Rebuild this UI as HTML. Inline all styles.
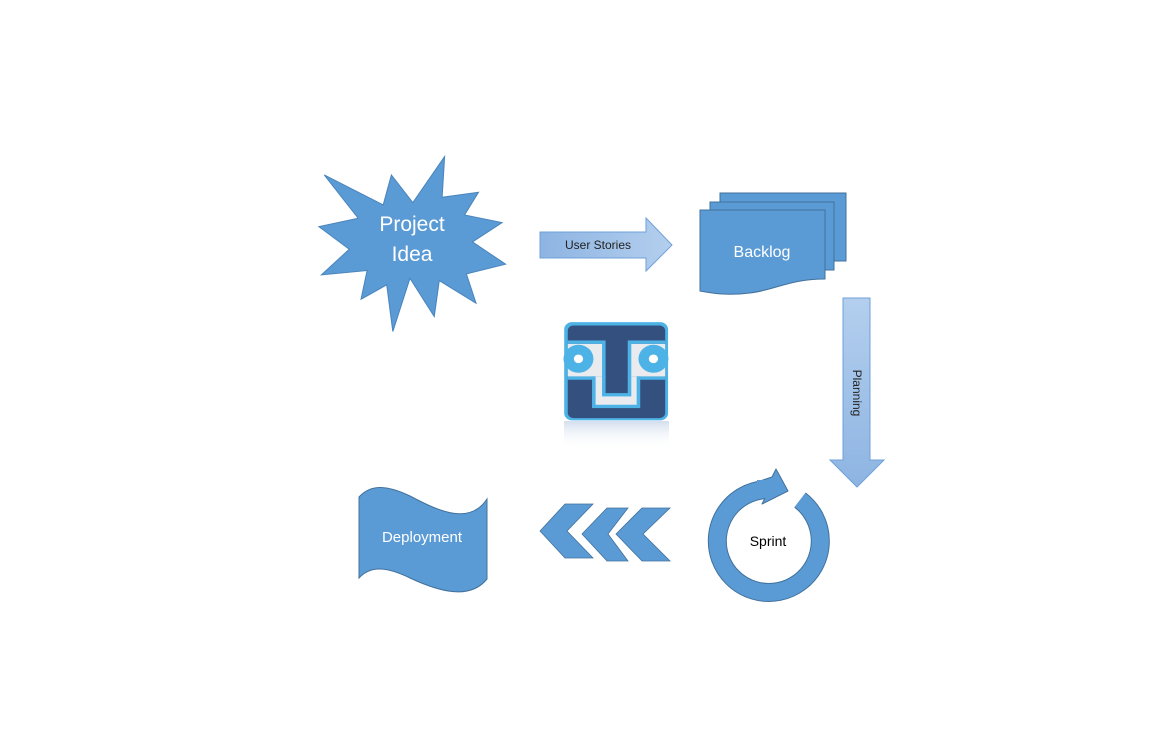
<!DOCTYPE html>
<html><head><meta charset="utf-8"><style>html,body{margin:0;padding:0;background:#fff}svg{display:block}</style></head>
<body>
<svg width="1169" height="735" viewBox="0 0 1169 735" xmlns="http://www.w3.org/2000/svg" font-family="'Liberation Sans', sans-serif">
<defs>
<linearGradient id="ga" x1="0" y1="0" x2="1" y2="0"><stop offset="0" stop-color="#8db4e2"/><stop offset="1" stop-color="#b4cfee"/></linearGradient>
<linearGradient id="gb" x1="0" y1="0" x2="0" y2="1"><stop offset="0" stop-color="#b4cfee"/><stop offset="1" stop-color="#8db4e2"/></linearGradient>
<linearGradient id="gr" x1="0" y1="0" x2="0" y2="1"><stop offset="0" stop-color="#c8d6ea" stop-opacity="0.8"/><stop offset="1" stop-color="#fff" stop-opacity="0"/></linearGradient>
</defs>
<!-- Star -->
<g transform="translate(310,150) scale(0.357,0.333)">
<polygon points="40,75 205,165 228,75 288,158 377,20 370,142 472,127 433,195 538,218 455,276 548,343 438,372 465,460 362,392 348,500 280,385 232,545 215,405 143,448 160,362 32,375 110,298 25,230 135,205" fill="#5b9bd5" stroke="#4a85bd" stroke-width="3"/>
</g>
<text x="412" y="231" font-size="21" fill="#fff" text-anchor="middle">Project</text>
<text x="412" y="261" font-size="21" fill="#fff" text-anchor="middle">Idea</text>
<!-- User stories arrow -->
<polygon points="540,232 646,232 646,218 672,245 646,271 646,258 540,258" fill="url(#ga)" stroke="#6fa0d8" stroke-width="1"/>
<text x="598" y="249" font-size="12" fill="#222" text-anchor="middle">User Stories</text>
<!-- Backlog -->
<rect x="720" y="193" width="126" height="68" fill="#5b9bd5" stroke="#41719c"/>
<rect x="710" y="202" width="124" height="68" fill="#5b9bd5" stroke="#41719c"/>
<path d="M700,210 H825 V279 C790,279 775,290 750,293 C725,296 712,293 700,291 Z" fill="#5b9bd5" stroke="#41719c"/>
<text x="762" y="257" font-size="16" fill="#fff" text-anchor="middle">Backlog</text>
<!-- Planning arrow -->
<polygon points="843,298 870,298 870,460 884,460 857,487 830,460 843,460" fill="url(#gb)" stroke="#6fa0d8" stroke-width="1"/>
<text transform="translate(853,393) rotate(90)" font-size="12" fill="#222" text-anchor="middle">Planning</text>
<!-- Logo -->
<g transform="translate(310,150) scale(0.357,0.333)">
<rect x="712" y="517" width="291" height="295" rx="22" fill="#4db3e6"/>
<rect x="722" y="527" width="273" height="278" rx="16" fill="#34507f"/>
<rect x="722" y="582" width="273" height="98" fill="#e9ebee"/>
<rect x="722" y="572" width="273" height="10" fill="#4db3e6"/>
<rect x="722" y="680" width="273" height="10" fill="#4db3e6"/>
<rect x="790" y="680" width="135" height="95" fill="#4db3e6"/>
<rect x="800" y="680" width="115" height="85" fill="#e9ebee"/>
<rect x="818" y="572" width="82" height="168" fill="#4db3e6"/>
<rect x="828" y="560" width="62" height="170" fill="#34507f"/>
<circle cx="752" cy="627" r="42" fill="#4db3e6"/><circle cx="752" cy="627" r="13" fill="#fff"/>
<circle cx="962" cy="627" r="42" fill="#4db3e6"/><circle cx="962" cy="627" r="13" fill="#fff"/>
</g>
<rect x="564" y="421" width="105" height="28" fill="url(#gr)"/>
<!-- Chevrons -->
<g fill="#5b9bd5" stroke="#41719c" stroke-width="0.8">
<polygon points="540,531 565,504 593,504 567,531 593,558 565,558"/>
<polygon points="582,534 607,508 628,508 608,534 628,561 607,561"/>
<polygon points="616,534 642,508 670,508 643,534 670,561 642,561"/>
</g>
<!-- Sprint -->
<path d="M800,500 A51.5,51.5 0 1 1 765.3,489.6" fill="none" stroke="#41719c" stroke-width="19"/>
<path d="M800,500 A51.5,51.5 0 1 1 765.3,489.6" fill="none" stroke="#5b9bd5" stroke-width="17"/>
<polygon points="776,469 788,491 762,504 766,496 760,481 772,477" fill="#5b9bd5" stroke="#41719c" stroke-width="1" stroke-linejoin="round"/>
<rect x="757" y="480" width="12" height="18" fill="#5b9bd5"/>
<text x="768" y="546" font-size="14" fill="#000" text-anchor="middle">Sprint</text>
<!-- Deployment -->
<path d="M359,497 C370,485 385,484 410,496 C440,512 470,525 487,499 V579 C470,600 440,592 410,578 C385,566 370,566 359,578 Z" fill="#5b9bd5" stroke="#41719c"/>
<text x="422" y="542" font-size="15" fill="#fff" text-anchor="middle">Deployment</text>
</svg>
</body></html>
